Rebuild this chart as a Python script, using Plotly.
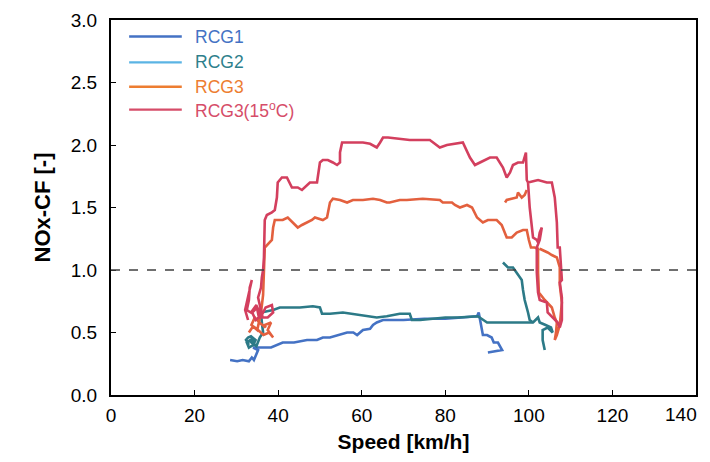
import plotly.graph_objects as go

# ---------------- data (speed km/h, NOx-CF) ----------------
rcg1_speed = [28.5, 30.2, 31.5, 33.0, 33.7, 34.2, 35.2, 34.0, 35.9, 38.3, 41.1, 43.8, 46.9, 49.3,
              50.7, 52.4, 56.5, 58.0, 58.9, 60.3, 62.0, 62.7, 63.6, 65.1, 70.0, 75.0, 80.0, 85.0,
              87.6, 88.0, 88.3, 88.6, 89.0, 90.0, 91.1, 91.6, 92.6, 93.6, 90.2]
rcg1_cf = [0.28, 0.27, 0.28, 0.27, 0.30, 0.28, 0.36, 0.38, 0.38, 0.38, 0.42, 0.42, 0.44, 0.44,
           0.46, 0.46, 0.50, 0.50, 0.48, 0.52, 0.53, 0.56, 0.58, 0.60, 0.60, 0.61, 0.61, 0.62,
           0.63, 0.66, 0.60, 0.54, 0.48, 0.48, 0.46, 0.42, 0.42, 0.36, 0.34]

rcg2_speed = [33.0, 32.3, 32.8, 33.5, 34.6, 34.0, 33.0, 32.5, 33.8, 34.4, 33.2, 34.8, 35.6, 36.4,
              36.1, 35.9, 38.8, 40.4, 42.1, 45.2, 48.3, 50.0, 50.5, 52.4, 55.5, 59.6, 63.6, 66.0,
              69.1, 71.5, 72.0, 74.0, 77.0, 80.0, 83.0, 87.8, 90.0, 95.0, 101.0, 102.2, 102.6,
              104.0, 105.3, 105.7, 104.5, 103.3, 103.3, 103.8,
              None,
              93.8, 95.0, 96.2, 97.1, 98.3, 98.6, 99.0, 99.8, 100.2, 101.0]
rcg2_cf = [0.40, 0.44, 0.46, 0.47, 0.44, 0.40, 0.38, 0.42, 0.45, 0.41, 0.43, 0.39, 0.46, 0.50,
           0.58, 0.66, 0.68, 0.70, 0.70, 0.70, 0.71, 0.70, 0.65, 0.65, 0.66, 0.64, 0.62, 0.63,
           0.65, 0.65, 0.60, 0.60, 0.61, 0.62, 0.62, 0.63, 0.58, 0.58, 0.58, 0.62, 0.58,
           0.56, 0.54, 0.50, 0.54, 0.52, 0.44, 0.36,
           None,
           1.06, 1.02, 1.02, 0.98, 0.92, 0.84, 0.76, 0.66, 0.60, 0.58]

rcg3_speed = [33.0, 34.0, 35.2, 36.5, 37.8, 38.8, 37.5, 38.3, 36.8, 37.0, 35.5, 34.4, 33.6, 35.0,
              35.9, 36.4, 36.6, 36.8, 36.8, 38.5, 38.8, 39.2, 41.1, 42.3, 43.5, 44.7, 45.7, 46.9,
              48.1, 48.8, 50.7, 51.7, 52.4, 53.1, 54.8, 56.5, 57.9, 60.3, 62.7, 64.4, 66.0, 66.7,
              69.1, 70.8, 74.6, 78.7, 79.4, 80.6, 81.6, 82.3, 83.5, 85.2, 86.4, 87.6, 89.0, 90.2,
              92.3, 93.5, 94.3, 94.7, 95.9, 97.1, 98.6, 99.5, 100.0, 100.5, 101.4, 102.2, 102.2,
              102.4, 103.8, 105.5, 106.2, 106.7, 106.5, 106.2, 106.7, 107.4, 107.9, 107.4, 107.4,
              106.7, 105.5, 104.5, 102.6,
              None,
              94.3, 94.7, 97.1, 97.4, 98.3, 99.0, 99.5]
rcg3_cf = [0.50, 0.55, 0.52, 0.48, 0.50, 0.46, 0.52, 0.58, 0.56, 0.54, 0.58, 0.62, 0.56, 0.52,
           0.66, 0.80, 0.96, 1.12, 1.18, 1.24, 1.34, 1.40, 1.40, 1.42, 1.38, 1.34, 1.36, 1.38,
           1.40, 1.42, 1.40, 1.42, 1.54, 1.57, 1.56, 1.54, 1.56, 1.56, 1.57, 1.56, 1.54, 1.54,
           1.56, 1.56, 1.57, 1.56, 1.54, 1.54, 1.54, 1.52, 1.50, 1.52, 1.50, 1.42, 1.38, 1.40,
           1.40, 1.36, 1.30, 1.26, 1.26, 1.30, 1.32, 1.32, 1.24, 1.18, 1.18, 1.17, 0.98,
           0.82, 0.76, 0.70, 0.62, 0.58, 0.50, 0.44, 0.48, 0.56, 0.74, 0.88, 1.02,
           1.10, 1.12, 1.14, 1.17,
           None,
           1.54, 1.56, 1.58, 1.62, 1.58, 1.60, 1.64]

rcg315_speed = [32.8, 32.1, 32.5, 33.7, 33.2, 33.0, 32.5, 33.5, 34.8, 35.4, 37.5, 38.8, 38.5, 37.0,
                36.1, 34.6, 33.8, 35.0, 36.3, 35.2, 35.9, 36.1, 36.4, 36.6, 36.8, 37.3, 38.5, 39.2,
                39.7, 39.9, 40.9, 42.1, 42.8, 43.3, 44.0, 44.7, 45.7, 46.4, 47.6, 49.3, 49.5, 50.0,
                50.7, 51.9, 53.1, 54.1, 54.8, 54.8, 55.3, 56.5, 58.4, 60.3, 62.0, 63.6, 64.4, 65.1,
                66.3, 69.1, 71.5, 76.3, 78.7, 80.4, 84.2, 85.9, 87.1, 88.3, 90.7, 92.3, 93.8, 94.7,
                95.5, 96.2, 97.4, 98.6, 99.0, 99.3, 99.5, 99.8, 100.2, 100.7, 101.0, 101.9, 102.2,
                102.6, 103.1, 102.6, 101.9, 101.9, 102.2, 102.6, 104.3, 104.5, 105.7, 106.9, 107.4,
                107.9, 107.9, 107.4, 107.9, 107.4, 106.9, 106.7, 106.2, 105.7, 105.5, 104.3, 102.2,
                99.8]
rcg315_cf = [0.60, 0.68, 0.74, 0.92, 0.86, 0.76, 0.68, 0.66, 0.72, 0.62, 0.62, 0.66, 0.72, 0.70,
             0.64, 0.60, 0.66, 0.70, 0.62, 0.78, 0.86, 0.94, 1.00, 1.10, 1.40, 1.44, 1.46, 1.48,
             1.58, 1.70, 1.74, 1.74, 1.70, 1.66, 1.66, 1.66, 1.64, 1.66, 1.70, 1.70, 1.74, 1.86,
             1.88, 1.88, 1.86, 1.84, 1.86, 1.94, 2.02, 2.02, 2.02, 2.02, 2.01, 1.98, 2.02, 2.06,
             2.06, 2.05, 2.04, 2.04, 1.98, 2.00, 2.02, 1.90, 1.84, 1.86, 1.90, 1.90, 1.82, 1.74,
             1.78, 1.84, 1.86, 1.86, 1.90, 1.94, 1.72, 1.70, 1.50, 1.34, 1.26, 1.24, 1.22,
             1.30, 1.34, 1.24, 1.18, 0.98, 0.82, 0.76, 0.74, 0.66, 0.62, 0.58, 0.54,
             0.60, 0.78, 0.90, 0.92, 1.18, 1.18, 1.38, 1.58, 1.66, 1.70, 1.70, 1.72,
             1.70]

legend_labels = ["RCG1", "RCG2", "RCG3", "RCG3(15<sup>o</sup>C)"]
line_colors = ["#4472C4", "#2C7A87", "#E3603E", "#D33F5E"]
legend_line_colors = ["#4472C4", "#5BB4E4", "#ED7D31", "#D64D69"]
legend_text_colors = ["#4472C4", "#2E7F8C", "#ED7D31", "#D64D69"]

x_ticks = [0, 20, 40, 60, 80, 100, 120, 140]
x_tick_text = ["0", "20", "40", "60", "80", "100", "120", ""]
last_x_label = "140"
y_ticks = [0.0, 0.5, 1.0, 1.5, 2.0, 2.5, 3.0]
limit_value = 1.0

series = [(rcg1_speed, rcg1_cf), (rcg2_speed, rcg2_cf), (rcg3_speed, rcg3_cf), (rcg315_speed, rcg315_cf)]

FONT = "Liberation Sans, Arial"

fig = go.Figure()
for (xs, ys), col, name in zip(series, line_colors, legend_labels):
    fig.add_trace(go.Scatter(x=xs, y=ys, mode="lines", name=name, showlegend=False,
                             connectgaps=False,
                             line=dict(color=col, width=2.6)))

# dashed limit line
fig.add_shape(type="line", xref="x", yref="y", x0=x_ticks[0], x1=x_ticks[-1],
              y0=limit_value, y1=limit_value,
              line=dict(color="#404040", width=1.4, dash="dash"))

# last x tick label, kept inside the page (right aligned at the frame)
fig.add_annotation(xref="x", yref="paper", x=x_ticks[-1], y=0, text=last_x_label,
                   showarrow=False, xanchor="right", yanchor="top", xshift=3, yshift=-7,
                   font=dict(family=FONT, size=19, color="black"))

# manual legend
leg_y = [0.956, 0.887, 0.822, 0.761]
for yy, lc, tc, lab in zip(leg_y, legend_line_colors, legend_text_colors, legend_labels):
    fig.add_shape(type="line", xref="paper", yref="paper", x0=0.031, x1=0.121, y0=yy, y1=yy,
                  line=dict(color=lc, width=2.4))
    fig.add_annotation(xref="paper", yref="paper", x=0.140, y=yy, text=lab, showarrow=False,
                       xanchor="left", yanchor="middle",
                       font=dict(family=FONT, size=17.5, color=tc))

axis_common = dict(showline=True, linecolor="black", linewidth=2, mirror=True,
                   ticks="inside", ticklen=5, tickwidth=1, tickcolor="black",
                   showgrid=False, zeroline=False, automargin=False,
                   tickfont=dict(family=FONT, size=19, color="black"))

# page body has an 8px margin, so the figure is sized to fit the 710x462 window
fig.update_layout(
    width=702, height=454,
    margin=dict(l=103, r=14, t=12, b=67),
    paper_bgcolor="white", plot_bgcolor="white",
    showlegend=False,
    xaxis=dict(range=[x_ticks[0], x_ticks[-1]], tickvals=x_ticks, ticktext=x_tick_text,
               title=dict(text="<b>Speed [km/h]</b>", standoff=10,
                          font=dict(family=FONT, size=21, color="black")),
               ticklabelstandoff=2, **axis_common),
    yaxis=dict(range=[y_ticks[0], y_ticks[-1]], tickvals=y_ticks, tickformat=".1f",
               title=dict(text="<b>NOx-CF [-]</b>", standoff=14,
                          font=dict(family=FONT, size=22, color="black")),
               ticklabelstandoff=8, **axis_common),
)

fig.write_html("out.html")
